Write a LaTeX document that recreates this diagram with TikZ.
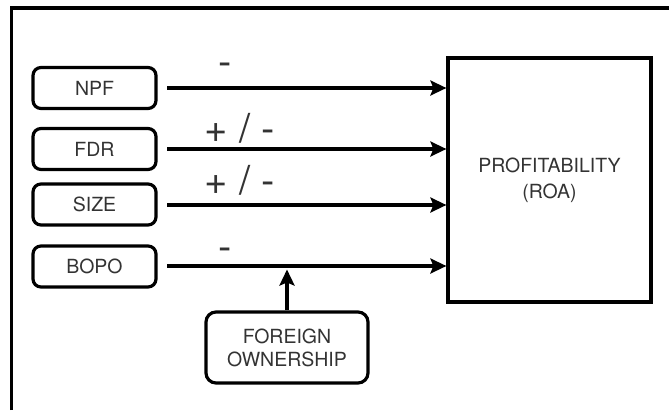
\documentclass[tikz,border=0pt]{standalone}
\usepackage{fontspec}
\setmainfont{TeX Gyre Heros}
\usetikzlibrary{arrows.meta}
\begin{document}
\begin{tikzpicture}[x=1pt,y=-1pt,
  line width=3.2pt,
  txt/.style={text=black!80},
  varbox/.style={draw, rounded corners=8pt, minimum width=123pt, minimum height=41pt,
    inner sep=0pt, font=\fontsize{19.5}{23}\selectfont, txt},
  bigbox/.style={draw, minimum width=203pt, minimum height=244pt, inner sep=0pt,
    align=center, font=\fontsize{19.5}{26}\selectfont, txt},
  modbox/.style={draw, rounded corners=10pt, minimum width=162pt, minimum height=71pt,
    inner sep=0pt, align=center, font=\fontsize{19.5}{23}\selectfont, txt},
  sign/.style={anchor=base, inner sep=0pt, font=\fontsize{40}{40}\selectfont, txt},
  arr/.style={-{Stealth[length=16pt,width=15pt,inset=3pt]}}]
\useasboundingbox (0,0) rectangle (669,410);
% outer frame (runs off the right and bottom edges)
\draw[line width=3.4pt] (11.5,410) -- (11.5,8) -- (669,8);

% explanatory variables
\node[varbox] (npf)  at (94.5,88)    {NPF};
\node[varbox] (fdr)  at (94.5,149)   {FDR};
\node[varbox] (size) at (94.5,204.5) {SIZE};
\node[varbox] (bopo) at (94.5,266.5) {BOPO};

% dependent variable
\node[bigbox] (roa) at (549.5,180) {PROFITABILITY\\(ROA)};

% moderating variable
\node[modbox] (fo) at (287,347.5) {FOREIGN\\OWNERSHIP};

% effect arrows
\coordinate (s1) at (167,88);
\coordinate (s2) at (167,149);
\coordinate (s3) at (167,205);
\coordinate (s4) at (167,266);
\draw[arr] (s1) -- (s1 -| roa.west);
\draw[arr] (s2) -- (s2 -| roa.west);
\draw[arr] (s3) -- (s3 -| roa.west);
\draw[arr] (s4) -- (s4 -| roa.west);

% moderation arrow onto the BOPO path
\coordinate (mod) at (287,269.5);
\draw[arr] (fo.north) -- (mod);

% expected signs
\node[sign] (sg1) at (225,75)  {-};
\node[sign] (sg2) at (240,142) {+ / -};
\node[sign] (sg3) at (240,194) {+ / -};
\node[sign] (sg4) at (225,260) {-};
\end{tikzpicture}
\end{document}
